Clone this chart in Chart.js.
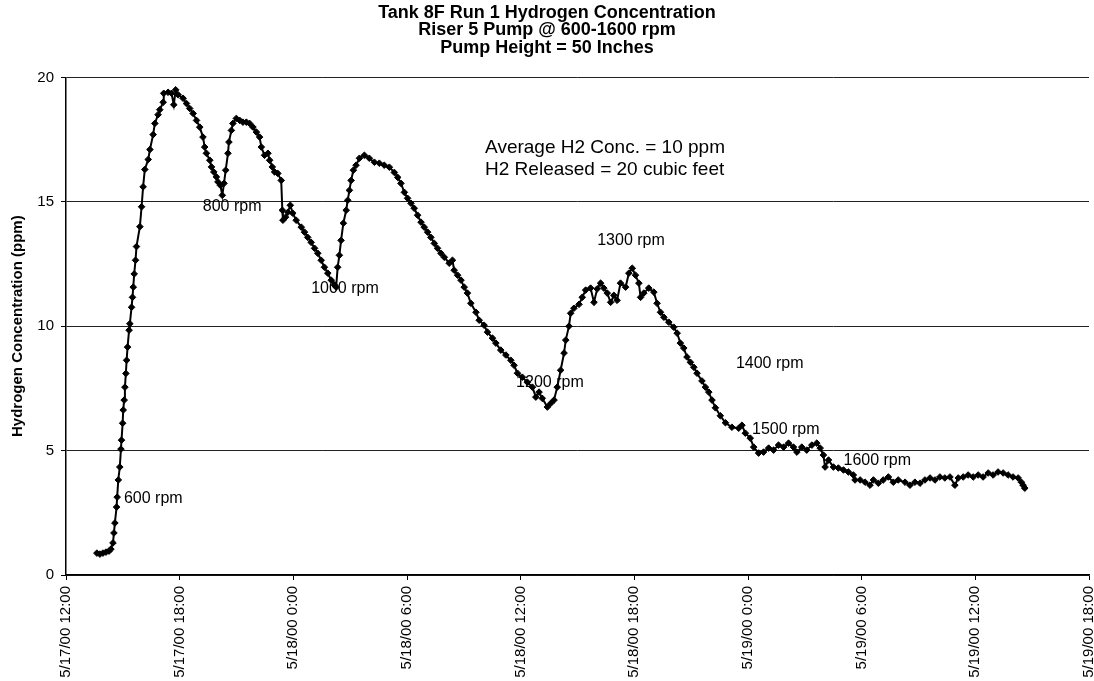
<!DOCTYPE html>
<html>
<head>
<meta charset="utf-8">
<title>Tank 8F Run 1 Hydrogen Concentration</title>
<script src="https://cdn.jsdelivr.net/npm/chart.js@4.4.1/dist/chart.umd.min.js"></script>
<style>
  html, body { margin: 0; padding: 0; background: #fff; }
  #h2Chart { display: block; }
</style>
</head>
<body>
<canvas id="h2Chart" width="1094" height="681"></canvas>
<script>
// hours since 5/17/00 12:00
const times = [
  1.63, 1.79, 1.95, 2.11, 2.27, 2.37, 2.48, 2.53, 2.58, 2.67, 2.70, 2.76, 2.84, 2.90, 2.93, 2.99,
  3.02, 3.07, 3.11, 3.16, 3.20, 3.25, 3.33, 3.37, 3.46, 3.51, 3.55, 3.60, 3.67, 3.72, 3.90, 3.99,
  4.07, 4.16, 4.34, 4.43, 4.60, 4.69, 4.86, 4.95, 5.13, 5.16, 5.39, 5.57, 5.69, 5.79, 5.92, 6.18,
  6.36, 6.53, 6.71, 6.89, 7.06, 7.23, 7.32, 7.41, 7.59, 7.68, 7.80, 7.94, 8.02, 8.15, 8.25, 8.34,
  8.43, 8.55, 8.60, 8.73, 8.81, 8.99, 9.17, 9.34, 9.52, 9.69, 9.87, 10.05, 10.22, 10.31, 10.48, 10.66,
  10.75, 10.89, 11.01, 11.18, 11.36, 11.42, 11.45, 11.59, 11.71, 11.84, 11.97, 12.15, 12.42, 12.59, 12.76, 12.94,
  13.12, 13.29, 13.47, 13.64, 13.82, 14.00, 14.17, 14.26, 14.34, 14.43, 14.52, 14.64, 14.79, 14.87, 14.96, 15.05,
  15.17, 15.31, 15.49, 15.75, 16.01, 16.28, 16.54, 16.80, 17.07, 17.33, 17.51, 17.68, 17.86, 18.03, 18.21, 18.38,
  18.56, 18.74, 18.91, 19.09, 19.26, 19.44, 19.61, 19.79, 19.97, 20.23, 20.40, 20.49, 20.67, 20.85, 21.02, 21.19,
  21.37, 21.64, 21.81, 22.07, 22.25, 22.51, 22.69, 22.95, 23.22, 23.48, 23.65, 23.83, 24.09, 24.35, 24.62, 24.80,
  24.97, 25.14, 25.41, 25.59, 25.76, 25.93, 26.11, 26.29, 26.38, 26.55, 26.64, 26.81, 27.08, 27.25, 27.43, 27.69,
  27.87, 28.04, 28.22, 28.39, 28.57, 28.75, 28.92, 29.09, 29.27, 29.54, 29.71, 29.89, 30.06, 30.24, 30.33, 30.50,
  30.76, 31.03, 31.20, 31.38, 31.56, 31.82, 32.08, 32.26, 32.43, 32.61, 32.78, 32.96, 33.14, 33.31, 33.57, 33.75,
  33.93, 34.10, 34.28, 34.54, 34.81, 35.15, 35.51, 35.68, 35.86, 36.12, 36.30, 36.56, 36.82, 37.09, 37.35, 37.61,
  37.88, 38.14, 38.40, 38.58, 38.84, 39.10, 39.37, 39.63, 39.81, 39.98, 40.07, 40.25, 40.51, 40.77, 41.04, 41.30,
  41.56, 41.65, 41.92, 42.18, 42.44, 42.62, 42.88, 43.14, 43.41, 43.67, 43.93, 44.29, 44.55, 44.81, 45.08, 45.34,
  45.61, 45.87, 46.13, 46.39, 46.66, 46.92, 47.10, 47.36, 47.62, 47.89, 48.15, 48.41, 48.68, 48.94, 49.20, 49.47,
  49.73, 49.99, 50.26, 50.43, 50.52, 50.61
];

const h2ppm = [
  0.88, 0.84, 0.88, 0.92, 0.96, 1.04, 1.29, 1.69, 2.09, 2.73, 3.13, 3.82, 4.34, 5.06, 5.42, 6.10,
  6.63, 7.03, 7.55, 8.10, 8.63, 9.16, 9.84, 10.10, 10.76, 11.16, 11.57, 12.10, 12.65, 13.20, 14.00, 14.80,
  15.60, 16.30, 16.70, 17.10, 17.70, 18.15, 18.50, 18.70, 19.00, 19.36, 19.40, 19.36, 18.90, 19.50, 19.30, 19.16,
  18.95, 18.75, 18.55, 18.27, 18.00, 17.60, 17.20, 16.95, 16.67, 16.40, 16.20, 16.00, 15.80, 15.66, 15.26, 15.74,
  16.27, 16.95, 17.40, 17.87, 18.15, 18.35, 18.27, 18.20, 18.20, 18.15, 18.00, 17.80, 17.60, 17.20, 16.87, 16.95,
  16.67, 16.40, 16.20, 16.14, 15.86, 14.66, 14.26, 14.38, 14.58, 14.86, 14.54, 14.26, 13.98, 13.78, 13.57, 13.37,
  13.13, 12.93, 12.65, 12.37, 12.13, 11.85, 11.65, 11.57, 12.37, 12.85, 13.45, 14.14, 14.66, 15.06, 15.46, 15.86,
  16.27, 16.47, 16.75, 16.87, 16.75, 16.59, 16.55, 16.47, 16.39, 16.18, 15.98, 15.74, 15.38, 15.14, 14.94, 14.74,
  14.46, 14.18, 13.98, 13.78, 13.57, 13.33, 13.13, 12.93, 12.77, 12.53, 12.65, 12.25, 12.05, 11.85, 11.57, 11.33,
  10.92, 10.56, 10.24, 10.04, 9.76, 9.52, 9.32, 9.04, 8.84, 8.63, 8.43, 8.11, 7.95, 7.75, 7.55, 7.15,
  7.35, 7.10, 6.75, 6.90, 7.03, 7.55, 8.23, 8.92, 9.44, 10.00, 10.52, 10.72, 10.88, 11.16, 11.45, 11.53,
  10.96, 11.50, 11.73, 11.53, 11.33, 10.96, 11.24, 11.04, 11.73, 11.57, 12.13, 12.33, 12.05, 11.73, 11.16, 11.33,
  11.53, 11.37, 10.92, 10.56, 10.36, 10.16, 9.96, 9.72, 9.32, 9.12, 8.76, 8.55, 8.35, 8.11, 7.80, 7.55,
  7.35, 7.03, 6.72, 6.40, 6.12, 5.94, 5.90, 6.02, 5.70, 5.50, 5.14, 4.90, 4.94, 5.10, 5.02, 5.22,
  5.14, 5.30, 5.14, 4.94, 5.14, 5.02, 5.22, 5.30, 5.10, 4.82, 4.34, 4.62, 4.34, 4.30, 4.22, 4.14,
  4.02, 3.82, 3.82, 3.73, 3.61, 3.82, 3.69, 3.82, 3.94, 3.73, 3.82, 3.73, 3.61, 3.73, 3.69, 3.82,
  3.90, 3.82, 3.94, 3.90, 3.94, 3.61, 3.90, 3.94, 4.02, 3.94, 4.02, 3.94, 4.10, 4.02, 4.14, 4.10,
  4.02, 3.94, 3.90, 3.73, 3.61, 3.49
];

const xTickLabels = [
  "5/17/00 12:00", "5/17/00 18:00", "5/18/00 0:00", "5/18/00 6:00", "5/18/00 12:00",
  "5/18/00 18:00", "5/19/00 0:00", "5/19/00 6:00", "5/19/00 12:00", "5/19/00 18:00"
];
const yTicks = [0, 5, 10, 15, 20];

// pump speed notes (left edge, hours / ppm)
const rpmLabels = ["600 rpm", "800 rpm", "1000 rpm", "1200 rpm", "1300 rpm", "1400 rpm", "1500 rpm", "1600 rpm"];
const rpmHours  = [3.06, 7.22, 12.94, 23.76, 28.04, 35.36, 36.21, 41.04];
const rpmPpm    = [3.09, 14.82, 11.53, 7.75, 13.43, 8.50, 5.85, 4.59];

const summaryLines = ["Average H2 Conc. = 10 ppm", "H2 Released = 20 cubic feet"];
const summaryHours = 22.12;
const summaryPpm   = [17.19, 16.27];

const titleLines = [
  "Tank 8F Run 1 Hydrogen Concentration",
  "Riser 5 Pump @ 600-1600 rpm",
  "Pump Height = 50 Inches"
];

Chart.defaults.font.family = "'Liberation Sans', Arial, Helvetica, sans-serif";
Chart.defaults.color = "#000";

const notesPlugin = {
  id: "notes",
  beforeDatasetsDraw(chart) {
    const { ctx, scales: { x, y } } = chart;
    ctx.save();
    ctx.fillStyle = "#000";
    ctx.textAlign = "left";
    ctx.textBaseline = "middle";
    ctx.font = "16px 'Liberation Sans', Arial, sans-serif";
    rpmLabels.forEach((txt, i) => {
      ctx.fillText(txt, x.getPixelForValue(rpmHours[i]), y.getPixelForValue(rpmPpm[i]));
    });
    ctx.font = "19px 'Liberation Sans', Arial, sans-serif";
    summaryLines.forEach((txt, i) => {
      ctx.fillText(txt, x.getPixelForValue(summaryHours), y.getPixelForValue(summaryPpm[i]));
    });
    ctx.restore();
  }
};

new Chart(document.getElementById("h2Chart").getContext("2d"), {
  type: "line",
  data: {
    datasets: [{
      label: "H2",
      data: times.map((t, i) => ({ x: t, y: h2ppm[i] })),
      borderColor: "#000",
      backgroundColor: "#000",
      borderWidth: 2,
      pointStyle: "rectRot",
      pointRadius: 3.3,
      pointBorderWidth: 1,
      tension: 0,
      fill: false
    }]
  },
  options: {
    responsive: false,
    animation: false,
    devicePixelRatio: 1,
    layout: { padding: { left: 0, right: 0, top: 0, bottom: 0 } },
    plugins: {
      legend: { display: false },
      tooltip: { enabled: false },
      title: {
        display: true,
        text: titleLines,
        color: "#000",
        font: { size: 18, weight: "bold", lineHeight: 0.97 },
        padding: { top: 4, bottom: 21 }
      }
    },
    scales: {
      x: {
        type: "linear",
        min: 0,
        max: 54,
        afterFit(scale) {
          scale.height = 106;
          scale.paddingRight = 2;
          scale.paddingLeft = 0;
        },
        afterBuildTicks(scale) {
          scale.ticks = xTickLabels.map((_, i) => ({ value: i * 6 }));
        },
        ticks: {
          minRotation: 90,
          maxRotation: 90,
          autoSkip: false,
          padding: 6,
          font: { size: 15 },
          callback: (v) => xTickLabels[Math.round(v / 6)]
        },
        grid: {
          drawOnChartArea: false,
          drawTicks: true,
          tickLength: 5,
          tickColor: "#000"
        },
        border: { display: true, color: "#000", width: 1.5 }
      },
      y: {
        min: 0,
        max: 20,
        afterFit(scale) {
          scale.width = 66;
        },
        afterBuildTicks(scale) {
          scale.ticks = yTicks.map(v => ({ value: v }));
        },
        ticks: {
          padding: 7,
          font: { size: 15 }
        },
        grid: {
          color: "#222",
          lineWidth: 1,
          tickLength: 5,
          tickColor: "#000"
        },
        border: { display: true, color: "#000", width: 1.5 },
        title: {
          display: true,
          text: "Hydrogen Concentration (ppm)",
          font: { size: 15, weight: "bold" },
          padding: { top: 9, bottom: 4 }
        }
      }
    }
  },
  plugins: [notesPlugin]
});
</script>
</body>
</html>
